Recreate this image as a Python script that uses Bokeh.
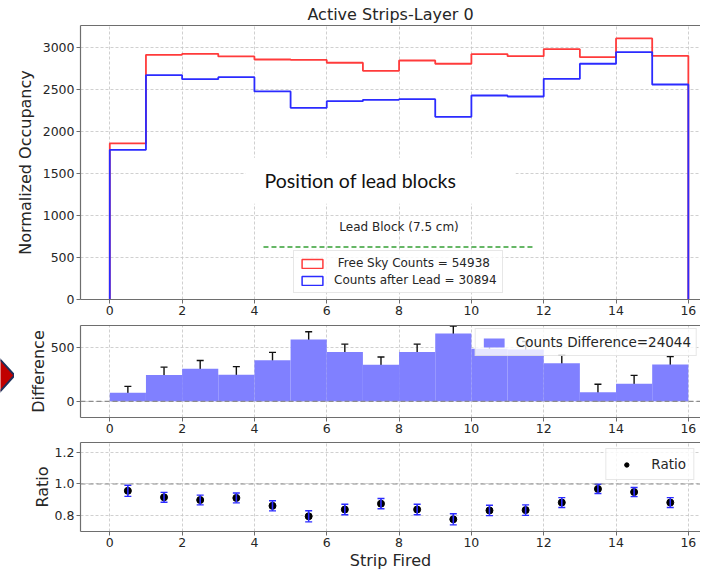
from bokeh.plotting import figure
from bokeh.layouts import column, row
from bokeh.models import (ColumnDataSource, Whisker, TeeHead, Legend, LegendItem, Label,
                          BoxAnnotation, Span, FixedTicker, LinearAxis, Range1d,
                          CustomJSTickFormatter)
from bokeh.embed import file_html
from bokeh.resources import INLINE

# ---------------- data ----------------
edges = list(range(0, 17))
free_sky = [1860, 2916, 2928, 2896, 2860, 2855, 2821, 2725, 2848, 2809, 2924, 2900, 2983, 2888, 3111, 2904]
after_lead = [1783, 2673, 2625, 2649, 2479, 2284, 2363, 2379, 2387, 2177, 2431, 2419, 2630, 2809, 2948, 2562]
difference = [79, 243, 303, 247, 381, 573, 458, 340, 458, 628, 488, 481, 352, 83, 163, 341]
diff_err = [60, 74, 75, 75, 73, 72, 72, 71, 72, 71, 73, 73, 75, 75, 78, 74]
ratio = [0.957, 0.916, 0.899, 0.912, 0.862, 0.796, 0.839, 0.876, 0.839, 0.777, 0.833, 0.835, 0.883, 0.969, 0.949, 0.883]
ratio_err = [0.035, 0.031, 0.031, 0.031, 0.032, 0.035, 0.033, 0.032, 0.033, 0.035, 0.033, 0.033, 0.031, 0.029, 0.029, 0.031]

x_ticks = [0, 2, 4, 6, 8, 10, 12, 14, 16]
occ_ticks = [0, 500, 1000, 1500, 2000, 2500, 3000]
diff_ticks = [0, 500]
ratio_ticks = [0.8, 1.0, 1.2]

title_text = "Active Strips-Layer 0"
free_label = " Free Sky Counts = 54938"
lead_label = "Counts after Lead = 30894"
diff_label = "Counts Difference=24044"
ratio_label = "Ratio"
lead_block_label = "Lead Block (7.5 cm)"
lead_block_x = [4.25, 11.7]
lead_block_y = 625
note_text = "Position of lead blocks"

# ---------------- styling ----------------
FONT = "DejaVu Sans"
SPINE = "#6e6e6e"
TEXT = "#262626"
GRID = "#c4c4c4"
RED = "#ff3b3b"
BLUE = "#2b2bff"
BAR = "#8080ff"
GREEN = "#35a035"

X_RANGE = (-0.81, 16.336)
WIDTH = 700
DECO_W = 14


def make_fig(height, yr, border_top, border_bottom, width=WIDTH, left=80):
    p = figure(width=width, height=height, output_backend="svg",
               toolbar_location=None, x_range=Range1d(*X_RANGE), y_range=Range1d(*yr),
               min_border_left=left, min_border_right=0, min_border_top=border_top,
               min_border_bottom=border_bottom)
    p.outline_line_color = None
    p.background_fill_color = "white"
    p.border_fill_color = "white"
    for g in (p.xgrid, p.ygrid):
        g.grid_line_color = GRID
        g.grid_line_dash = "3 2"
        g.grid_line_width = 0.8
    p.xaxis.ticker = FixedTicker(ticks=x_ticks)
    p.xgrid.ticker = FixedTicker(ticks=x_ticks)
    for ax in p.axis:
        ax.axis_line_color = SPINE
        ax.axis_line_width = 1.2
        ax.major_tick_line_color = SPINE
        ax.major_tick_out = 4
        ax.major_tick_in = 0
        ax.minor_tick_line_color = None
        ax.major_label_text_font = FONT
        ax.major_label_text_font_size = "12.5px"
        ax.major_label_text_color = TEXT
        ax.major_label_standoff = 2
        ax.axis_label_text_font = FONT
        ax.axis_label_text_font_size = "16px"
        ax.axis_label_text_font_style = "normal"
        ax.axis_label_text_color = TEXT
        ax.axis_label_standoff = 5
    top = LinearAxis(major_tick_line_color=None, minor_tick_line_color=None,
                     major_label_text_font_size="0px", major_tick_out=0, major_label_standoff=0,
                     axis_line_color=SPINE, axis_line_width=1.2, ticker=FixedTicker(ticks=[]))
    p.add_layout(top, "above")
    return p


def step_path(e, vals):
    xs, ys = [e[0]], [0]
    for i, v in enumerate(vals):
        xs += [e[i], e[i + 1]]
        ys += [v, v]
    xs.append(e[-1])
    ys.append(0)
    return xs, ys


centers = [(edges[i] + edges[i + 1]) / 2 for i in range(len(edges) - 1)]

# ---------------- top panel ----------------
p1 = make_fig(319, (0, 3265), 25, 20)
p1.left[0].ticker = FixedTicker(ticks=occ_ticks)
p1.ygrid.ticker = FixedTicker(ticks=occ_ticks)
p1.left[0].axis_label = "Normalized Occupancy"
p1.title.text = title_text
p1.title.align = "center"
p1.title.offset = 8
p1.title.standoff = 3
p1.title.text_font = FONT
p1.title.text_font_size = "16px"
p1.title.text_font_style = "normal"
p1.title.text_color = TEXT

xr, yr_ = step_path(edges, free_sky)
xb, yb = step_path(edges, after_lead)
p1.line(xr, yr_, line_color=RED, line_width=1.8)
p1.line(xb, yb, line_color=BLUE, line_width=1.8)

p1.add_layout(BoxAnnotation(left=3.75, right=11.22, bottom=1140, top=1690,
                            fill_color="white", fill_alpha=1.0, line_color=None))
p1.add_layout(Label(x=4.28, y=1417, text=note_text, text_font="Lato", text_font_size="19.5px",
                    text_color="#111111", text_baseline="middle", text_align="left"))
p1.add_layout(Label(x=8.0, y=867, text=lead_block_label, text_font=FONT, text_font_size="12px",
                    text_color=TEXT, text_baseline="middle", text_align="center"))
p1.segment(x0=[lead_block_x[0]], x1=[lead_block_x[1]], y0=[lead_block_y], y1=[lead_block_y],
           line_color=GREEN, line_width=1.6, line_dash="5 3")

# legend swatches (outlined boxes) parked outside the visible x range
swatch = ColumnDataSource(dict(l=[-50], r=[-49], t=[1], b=[0]))
leg_r = p1.quad(left="l", right="r", top="t", bottom="b", source=swatch, fill_alpha=0,
                line_color=RED, line_width=1.5)
leg_b = p1.quad(left="l", right="r", top="t", bottom="b", source=swatch, fill_alpha=0,
                line_color=BLUE, line_width=1.5)
leg1 = Legend(items=[LegendItem(label=free_label, renderers=[leg_r]),
                     LegendItem(label=lead_label, renderers=[leg_b])],
              location=(213, 6))
p1.add_layout(leg1)

# ---------------- middle panel ----------------
P2_H = 118
p2 = make_fig(P2_H, (-150, 703), 6, 20, width=WIDTH - DECO_W, left=80 - DECO_W)
p2.left[0].ticker = FixedTicker(ticks=diff_ticks)
p2.ygrid.ticker = FixedTicker(ticks=diff_ticks)
p2.left[0].axis_label = "Difference"
p2.left[0].axis_label_standoff = 0
bars = p2.quad(left=edges[:-1], right=edges[1:], bottom=0, top=difference,
               fill_color=BAR, fill_alpha=1.0, line_color=None)
p2.add_layout(Span(location=0, dimension="width", line_color="#8c8c8c", line_dash="5 3",
                   line_width=1.2))
dsrc = ColumnDataSource(dict(x=centers, lo=[d - e for d, e in zip(difference, diff_err)],
                             hi=[d + e for d, e in zip(difference, diff_err)]))
w2 = Whisker(base="x", lower="lo", upper="hi", source=dsrc, line_color="#111111", line_width=1.4,
             upper_head=TeeHead(size=7, line_color="#111111", line_width=1.4),
             lower_head=TeeHead(size=7, line_color="#111111", line_width=1.4))
p2.add_layout(w2)
leg2 = Legend(items=[LegendItem(label=diff_label, renderers=[bars])], location="top_right")
p2.add_layout(leg2)

# slide decoration: red pointer partly visible at the left page edge (pixel units)
deco = figure(width=DECO_W, height=P2_H, output_backend="svg", toolbar_location=None,
              x_range=Range1d(0, DECO_W), y_range=Range1d(0, P2_H),
              x_axis_location=None, y_axis_location=None, min_border=0)
deco.grid.visible = False
deco.outline_line_color = None
deco.border_fill_color = "white"
deco.patch([14, -10, -34, -10], [54, 88, 54, 20], fill_color="#c00000",
           line_color="#1f2f5a", line_width=2)

# ---------------- bottom panel ----------------
p3 = make_fig(135, (0.70, 1.262), 5, 39)
p3.left[0].ticker = FixedTicker(ticks=ratio_ticks)
p3.ygrid.ticker = FixedTicker(ticks=ratio_ticks)
p3.left[0].formatter = CustomJSTickFormatter(code="return tick.toFixed(1);")
p3.left[0].axis_label = "Ratio"
p3.left[0].axis_label_standoff = 0
p3.below[0].axis_label = "Strip Fired"
p3.below[0].axis_label_standoff = 1
p3.below[0].major_label_standoff = 2
p3.add_layout(Span(location=1.0, dimension="width", line_color="#8c8c8c", line_dash="5 3",
                   line_width=1.2))
rsrc = ColumnDataSource(dict(x=centers, y=ratio, lo=[r - e for r, e in zip(ratio, ratio_err)],
                             hi=[r + e for r, e in zip(ratio, ratio_err)]))
w3 = Whisker(base="x", lower="lo", upper="hi", source=rsrc, line_color=BLUE, line_width=1.6,
             upper_head=TeeHead(size=7, line_color=BLUE, line_width=1.4),
             lower_head=TeeHead(size=7, line_color=BLUE, line_width=1.4), level="glyph")
p3.add_layout(w3)
dots = p3.scatter("x", "y", source=rsrc, size=7, fill_color="black", line_color="black")
leg3 = Legend(items=[LegendItem(label=ratio_label, renderers=[dots])], location="top_right")
p3.add_layout(leg3)

for lg, fs in ((leg1, "12px"), (leg2, "13.5px"), (leg3, "13.5px")):
    lg.label_text_font = FONT
    lg.label_text_font_size = fs
    lg.label_text_color = TEXT
    lg.border_line_color = "#d0d0d0"
    lg.border_line_width = 1
    lg.background_fill_alpha = 0.8
    lg.glyph_width = 26
    lg.glyph_height = 11
    lg.label_standoff = 9
    lg.padding = 5
    lg.spacing = 3
    lg.margin = 5
    lg.label_height = 14
leg2.margin = 3
leg3.margin = 6
leg3.label_standoff = 12
leg3.padding = 7

layout = column(p1, row(deco, p2, spacing=0), p3, spacing=0)
with open("out.html", "w") as f:
    f.write(file_html(layout, INLINE))
